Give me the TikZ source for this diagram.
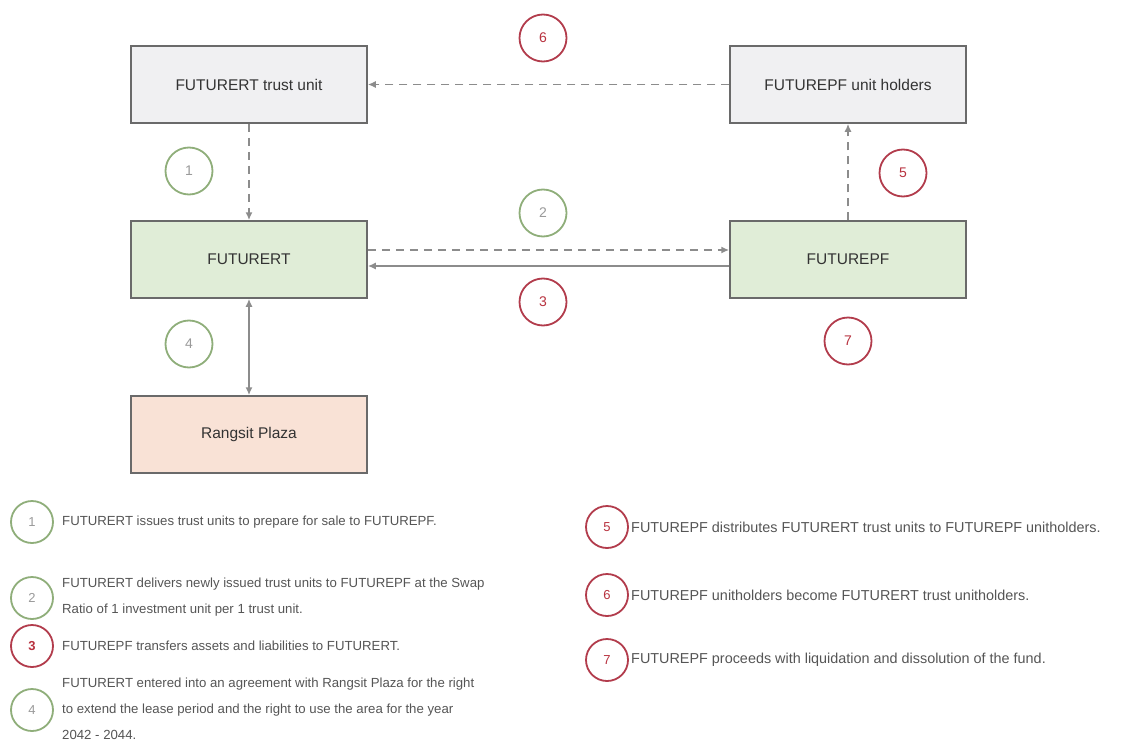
\documentclass[tikz,border=0pt]{standalone}
\usepackage{fontspec}
\setmainfont{Liberation Sans}
\usetikzlibrary{arrows.meta}
\definecolor{boxgray}{HTML}{F0F0F2}
\definecolor{boxgreen}{HTML}{E0EDD7}
\definecolor{boxpeach}{HTML}{F9E2D6}
\definecolor{edgegray}{HTML}{6A6A6A}
\definecolor{linkgray}{HTML}{8C8C8C}
\definecolor{cgreen}{HTML}{8FAE7A}
\definecolor{cred}{HTML}{B23C4C}
\definecolor{numgray}{HTML}{9A9A9A}
\definecolor{numred}{HTML}{B8323F}
\definecolor{txtgray}{HTML}{555555}
\tikzset{
  entity/.style={draw=edgegray, line width=1.5pt, minimum width=236pt, minimum height=77pt, inner sep=0pt, font=\fontsize{15.5}{18}\selectfont, text=black!80},
  bigcirc/.style={circle, draw, line width=1.8pt, fill=white, minimum size=47pt, inner sep=0pt, font=\fontsize{14}{16}\selectfont},
  smallcirc/.style={circle, draw, line width=1.8pt, fill=white, minimum size=42pt, inner sep=0pt, font=\fontsize{13}{15}\selectfont},
  gc/.style={draw=cgreen, text=numgray},
  rc/.style={draw=cred, text=numred},
  link/.style={draw=linkgray, line width=1.8pt, -{Latex[length=8pt,width=7pt]}},
  dlink/.style={link, dash pattern=on 8pt off 6pt},
  legtext/.style={anchor=west, inner sep=0pt, text=txtgray, font=\fontsize{13.2}{26}\selectfont, align=left},
  legtextr/.style={legtext, font=\fontsize{14.4}{26}\selectfont}
}
\begin{document}
\begin{tikzpicture}[x=1pt,y=-1pt]
\useasboundingbox (0,0) rectangle (1135,752);
% boxes
\node[entity, fill=boxgray] (tu) at (249,84.5) {FUTURERT trust unit};
\node[entity, fill=boxgray] (uh) at (848,84.5) {FUTUREPF unit holders};
\node[entity, fill=boxgreen] (rt) at (249,259.5) {FUTURERT};
\node[entity, fill=boxgreen] (pf) at (848,259.5) {FUTUREPF};
\node[entity, fill=boxpeach] (rp) at (249,434.5) {Rangsit Plaza};
% connectors
\draw[dlink] (uh.west) -- (tu.east);
\draw[dlink] (tu.south) -- (rt.north);
\draw[dlink] ([yshift=9.5pt]rt.east) -- ([yshift=9.5pt]pf.west);
\draw[link] ([yshift=-6.5pt]pf.west) -- ([yshift=-6.5pt]rt.east);
\draw[dlink] (pf.north) -- (uh.south);
\draw[link, {Latex[length=8pt,width=7pt]}-{Latex[length=8pt,width=7pt]}] (rt.south) -- (rp.north);
% step circles
\node[bigcirc, rc] (c6) at (543,38) {6};
\node[bigcirc, gc] (c1) at (189,171) {1};
\node[bigcirc, gc] (c2) at (543,213) {2};
\node[bigcirc, rc] (c3) at (543,302) {3};
\node[bigcirc, rc] (c5) at (903,173) {5};
\node[bigcirc, rc] (c7) at (848,341) {7};
\node[bigcirc, gc] (c4) at (189,344) {4};
% legend
\node[smallcirc, gc] (l1) at (32,522) {1};
\node[legtext] (t1) at (62,522) {FUTURERT issues trust units to prepare for sale to FUTUREPF.};
\node[smallcirc, gc] (l2) at (32,598) {2};
\node[legtext] (t2) at (62,597) {FUTURERT delivers newly issued trust units to FUTUREPF at the Swap\\Ratio of 1 investment unit per 1 trust unit.};
\node[smallcirc, rc, font=\fontsize{13}{15}\selectfont\bfseries] (l3) at (32,646) {3};
\node[legtext] (t3) at (62,646) {FUTUREPF transfers assets and liabilities to FUTURERT.};
\node[smallcirc, gc] (l4) at (32,710) {4};
\node[legtext] (t4) at (62,709) {FUTURERT entered into an agreement with Rangsit Plaza for the right\\to extend the lease period and the right to use the area for the year\\2042 - 2044.};
\node[smallcirc, rc] (l5) at (607,527) {5};
\node[legtextr] (t5) at (631,527) {FUTUREPF distributes FUTURERT trust units to FUTUREPF unitholders.};
\node[smallcirc, rc] (l6) at (607,595) {6};
\node[legtextr] (t6) at (631,595) {FUTUREPF unitholders become FUTURERT trust unitholders.};
\node[smallcirc, rc] (l7) at (607,660) {7};
\node[legtextr] (t7) at (631,660) {FUTUREPF proceeds with liquidation and dissolution of the fund.};
\end{tikzpicture}
\end{document}
